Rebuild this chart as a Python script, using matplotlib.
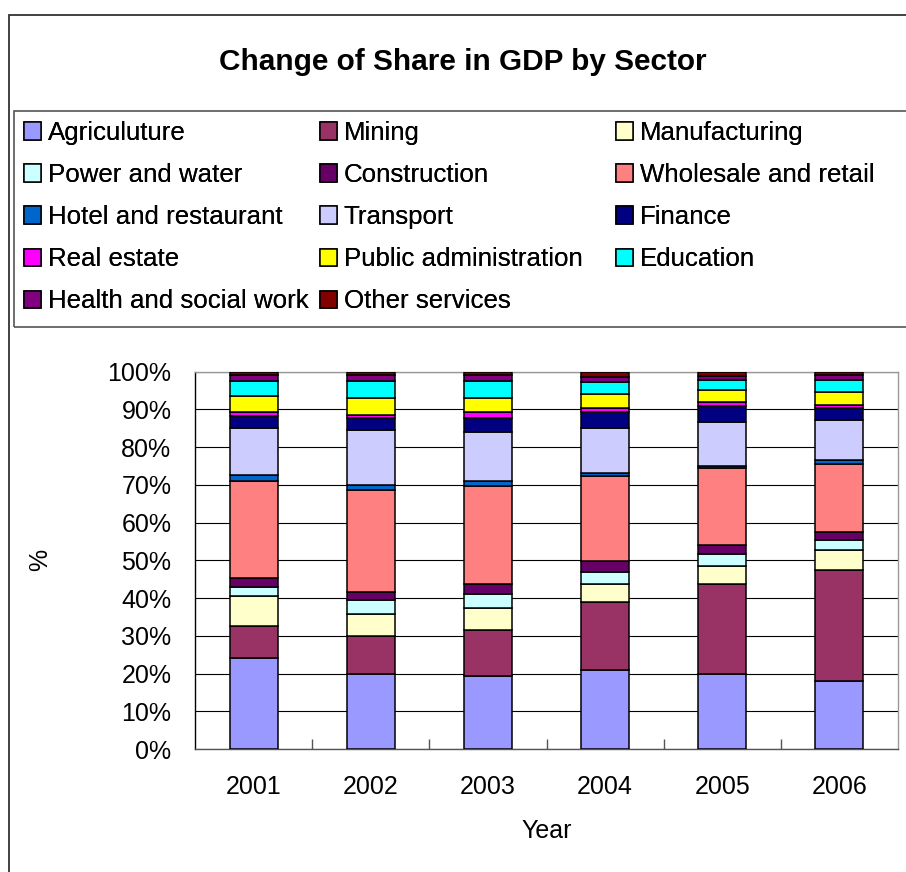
import numpy as np
import matplotlib
matplotlib.use("Agg")
import matplotlib.pyplot as plt
from matplotlib.patches import Rectangle
from matplotlib.ticker import PercentFormatter, FixedLocator

plt.rcParams['font.family'] = ['Liberation Sans', 'DejaVu Sans']

years = ["2001", "2002", "2003", "2004", "2005", "2006"]
sectors = ["Agriculuture", "Mining", "Manufacturing", "Power and water",
           "Construction", "Wholesale and retail", "Hotel and restaurant",
           "Transport", "Finance", "Real estate", "Public administration",
           "Education", "Health and social work", "Other services"]
colors = ["#9999FF", "#993366", "#FFFFCC", "#CCFFFF", "#660066", "#FF8080",
          "#0066CC", "#CCCCFF", "#000080", "#FF00FF", "#FFFF00", "#00FFFF",
          "#800080", "#800000"]

# share of GDP (%) per sector, one list per year
v2001 = [24.1, 8.6, 7.8, 2.4, 2.5, 25.7, 1.4, 12.5, 3.2, 1.0, 4.4, 4.0, 1.6, 0.8]
v2002 = [19.9, 10.1, 5.8, 3.7, 2.2, 27.0, 1.4, 14.5, 3.1, 0.8, 4.4, 4.7, 1.6, 0.8]
v2003 = [19.3, 12.3, 5.7, 3.7, 2.8, 25.8, 1.4, 12.9, 3.8, 1.5, 3.7, 4.7, 1.6, 0.8]
v2004 = [21.0, 17.9, 4.9, 3.1, 2.8, 22.6, 0.8, 11.9, 4.4, 0.9, 3.8, 3.1, 1.5, 1.3]
v2005 = [19.9, 23.9, 4.8, 3.1, 2.4, 20.4, 0.6, 11.7, 4.2, 0.9, 3.2, 2.7, 1.1, 1.1]
v2006 = [17.9, 29.6, 5.3, 2.5, 2.3, 18.0, 1.1, 10.5, 3.2, 0.8, 3.3, 3.3, 1.4, 0.8]

data = np.array([v2001, v2002, v2003, v2004, v2005, v2006])
data = data / data.sum(axis=1, keepdims=True) * 100

fig = plt.figure(figsize=(9.06, 8.72), dpi=100)

# outer chart border
fig.add_artist(Rectangle((9 / 906, -0.1), 1.2, 1 - 15 / 872 + 0.1,
                         transform=fig.transFigure, fill=False,
                         edgecolor="#333333", linewidth=1.3))

fig.text(0.5105, 1 - 62 / 872, "Change of Share in GDP by Sector",
         ha="center", va="center", fontsize=21.4, fontweight="bold")

ax = fig.add_axes([195 / 906, 1 - 749 / 872, 703 / 906, 377.3 / 872])
x = np.arange(len(years))
bottom = np.zeros(len(years))
handles = []
for i, name in enumerate(sectors):
    b = ax.bar(x, data[:, i], 0.41, bottom=bottom, color=colors[i],
               edgecolor="black", linewidth=1.1, label=name, zorder=3)
    handles.append(b)
    bottom += data[:, i]

ax.set_xlim(-0.5, len(years) - 0.5)
ax.set_ylim(0, 100)
ax.set_yticks(np.arange(0, 101, 10))
ax.yaxis.set_major_formatter(PercentFormatter(decimals=0))
ax.set_xticks(x)
ax.set_xticklabels(years)
ax.xaxis.set_minor_locator(FixedLocator(np.arange(0.5, len(years) - 1, 1)))
ax.tick_params(axis="x", which="major", length=0, pad=19, labelsize=18)
ax.tick_params(axis="x", which="minor", direction="in", length=7,
               color="#555555", width=1)
ax.tick_params(axis="y", length=0, pad=17, labelsize=18)
ax.grid(axis="y", color="black", linewidth=0.8, zorder=0)
ax.set_axisbelow(True)
ax.spines["left"].set_color("black")
ax.spines["bottom"].set_color("#555555")
ax.spines["top"].set_color("#999999")
ax.spines["right"].set_color("#999999")
for s in ax.spines.values():
    s.set_linewidth(1.0)

ax.set_xlabel("Year", fontsize=18, labelpad=14)
ax.set_ylabel("%", fontsize=18, labelpad=40)

# legend box, entries read row by row in three equal-width columns
fig.add_artist(Rectangle((14 / 906, 1 - 327 / 872), 1.0, 216 / 872,
                         transform=fig.transFigure, fill=False,
                         edgecolor="#555555", linewidth=1.2))
ncol = 3
col_x = [24, 320, 616]
for c in range(ncol):
    idx = list(range(c, len(sectors), ncol))
    leg = fig.legend([handles[i] for i in idx], [sectors[i] for i in idx],
                     loc="upper left",
                     bbox_to_anchor=(col_x[c] / 906, 1 - 121 / 872),
                     fontsize=18.6, frameon=False, borderpad=0,
                     borderaxespad=0, handlelength=0.65, handleheight=0.65,
                     handletextpad=0.26, labelspacing=0.70)
    fig.add_artist(leg)

fig.savefig("out.png", dpi=100)
